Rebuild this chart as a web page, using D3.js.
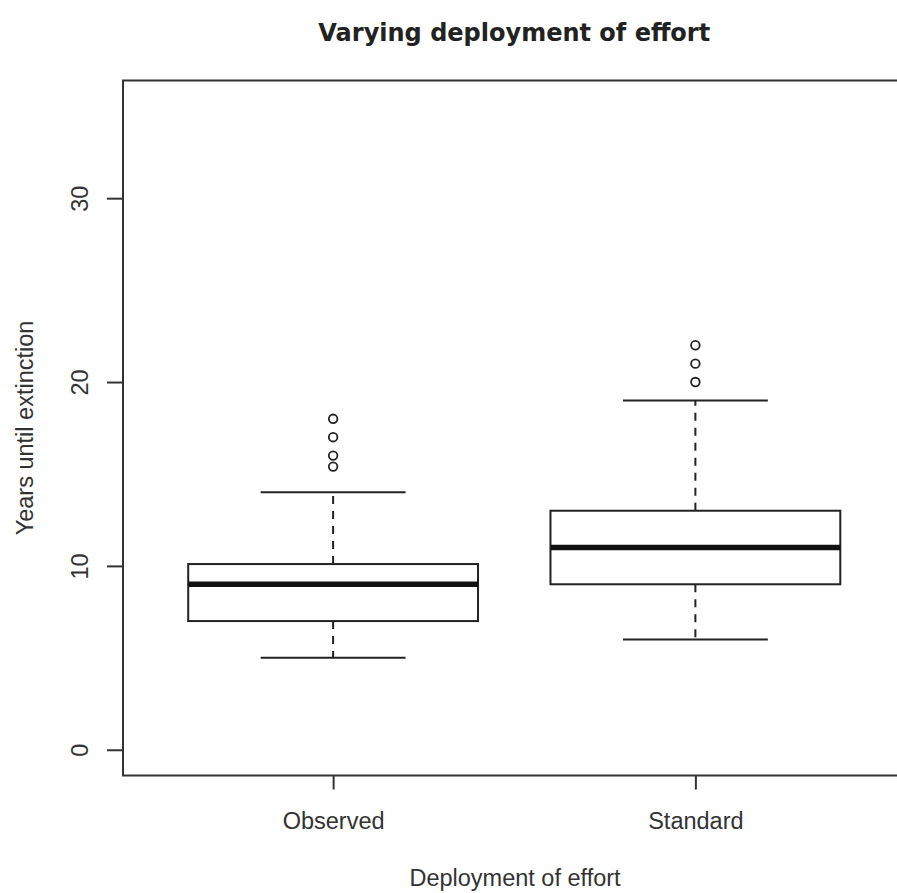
<!DOCTYPE html>
<html>
<head>
<meta charset="utf-8">
<script src="https://cdn.jsdelivr.net/npm/d3@7"></script>
<style>
  html, body { margin: 0; padding: 0; background: #fff; }
  svg { display: block; }
  text { font-family: "Liberation Sans", Arial, sans-serif; fill: #333; }
</style>
</head>
<body>
<svg id="chart" width="897" height="893"></svg>
<script>
// Box-plot summary per deployment strategy
const categories = ["Observed", "Standard"];
const lowerWhisker = [5, 6];
const q1 = [7, 9];
const median = [9, 11];
const q3 = [10.1, 13];
const upperWhisker = [14, 19];
const outliers = [[15.4, 16, 17, 18], [20, 21, 22]];
const yTicks = [0, 10, 20, 30];

const svg = d3.select("#chart");
const ink = "#222";
const labelSize = "23.5px";

// Plot region (the right edge runs past the canvas)
const plotLeft = 123, plotRight = 905.5, plotTop = 80.5, plotBottom = 775.5;

const x = d3.scaleLinear().domain([0.42, 2.58]).range([plotLeft, plotRight]);
const y = d3.scaleLinear().domain([-1.4, 36.4]).range([plotBottom, plotTop]);

const boxHalf = 0.4;     // half box width in category units
const capHalf = 0.2;     // half whisker-cap width

const data = categories.map((c, i) => ({
  name: c, pos: i + 1,
  lo: lowerWhisker[i], q1: q1[i], med: median[i], q3: q3[i], hi: upperWhisker[i],
  out: outliers[i]
}));

const g = svg.append("g");

data.forEach(d => {
  const cx = x(d.pos);
  // Whiskers (dashed)
  g.append("line").attr("x1", cx).attr("x2", cx)
    .attr("y1", y(d.q3)).attr("y2", y(d.hi))
    .attr("stroke", ink).attr("stroke-width", 2).attr("stroke-dasharray", "8,7");
  g.append("line").attr("x1", cx).attr("x2", cx)
    .attr("y1", y(d.q1)).attr("y2", y(d.lo))
    .attr("stroke", ink).attr("stroke-width", 2).attr("stroke-dasharray", "8,7");
  // Whisker caps
  [d.lo, d.hi].forEach(v => {
    g.append("line")
      .attr("x1", x(d.pos - capHalf)).attr("x2", x(d.pos + capHalf))
      .attr("y1", y(v)).attr("y2", y(v))
      .attr("stroke", ink).attr("stroke-width", 2);
  });
  // Box
  g.append("rect")
    .attr("x", x(d.pos - boxHalf)).attr("width", x(d.pos + boxHalf) - x(d.pos - boxHalf))
    .attr("y", y(d.q3)).attr("height", y(d.q1) - y(d.q3))
    .attr("fill", "#fff").attr("stroke", ink).attr("stroke-width", 2);
  // Median
  g.append("line")
    .attr("x1", x(d.pos - boxHalf)).attr("x2", x(d.pos + boxHalf))
    .attr("y1", y(d.med)).attr("y2", y(d.med))
    .attr("stroke", "#111").attr("stroke-width", 5.5);
  // Outliers
  g.selectAll(null).data(d.out).enter().append("circle")
    .attr("cx", cx).attr("cy", v => y(v)).attr("r", 4.3)
    .attr("fill", "none").attr("stroke", ink).attr("stroke-width", 1.8);
});

// Plot frame
svg.append("rect")
  .attr("x", plotLeft).attr("y", plotTop)
  .attr("width", plotRight - plotLeft).attr("height", plotBottom - plotTop)
  .attr("fill", "none").attr("stroke", "#333").attr("stroke-width", 2);

// Y axis
const yAxis = d3.axisLeft(y).tickValues(yTicks).tickSize(16).tickPadding(0).tickFormat(d3.format("d"));
const ya = svg.append("g").attr("transform", `translate(${plotLeft},0)`).call(yAxis);
ya.select(".domain").remove();
ya.selectAll(".tick line").attr("stroke", "#333").attr("stroke-width", 2);
ya.selectAll(".tick text")
  .attr("x", 0).attr("dy", null)
  .attr("transform", "translate(-35,0) rotate(-90)")
  .attr("text-anchor", "middle")
  .style("font-size", labelSize).style("fill", "#333");

// X axis
const xAxis = d3.axisBottom(x).tickValues(data.map(d => d.pos))
  .tickFormat((v, i) => categories[i]).tickSize(14).tickPadding(0);
const xa = svg.append("g").attr("transform", `translate(0,${plotBottom})`).call(xAxis);
xa.select(".domain").remove();
xa.selectAll(".tick line").attr("stroke", "#333").attr("stroke-width", 2);
xa.selectAll(".tick text")
  .attr("y", 53).attr("dy", null)
  .style("font-size", labelSize).style("fill", "#333");

// Titles
svg.append("text")
  .attr("x", (plotLeft + plotRight) / 2).attr("y", 41)
  .attr("text-anchor", "middle")
  .style("font-size", "24px").style("font-weight", "bold")
  .style("font-family", "'DejaVu Sans', Verdana, sans-serif")
  .style("fill", "#222")
  .text("Varying deployment of effort");

svg.append("text")
  .attr("x", 515).attr("y", 886)
  .attr("text-anchor", "middle")
  .style("font-size", labelSize)
  .text("Deployment of effort");

svg.append("text")
  .attr("transform", `translate(33,${(plotTop + plotBottom) / 2}) rotate(-90)`)
  .attr("text-anchor", "middle")
  .style("font-size", labelSize)
  .text("Years until extinction");
</script>
</body>
</html>
